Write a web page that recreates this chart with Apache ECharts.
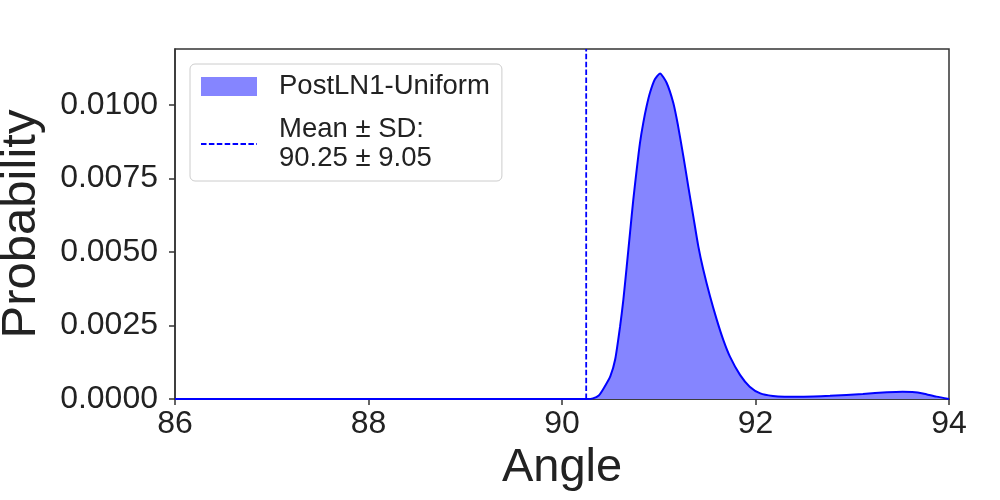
<!DOCTYPE html>
<html lang="en">
<head>
    <meta charset="UTF-8">
    <title>Angle distribution</title>
    <script src="https://cdn.jsdelivr.net/npm/echarts@6/dist/echarts.min.js"></script>
    <style>
        body { margin: 0; background: #ffffff; }
        #chart { width: 1000px; height: 500px; }
    </style>
</head>
<body>
    <div id="chart"></div>
    <script>
        // density curve
        var angles = [86, 90.26, 90.32, 90.38, 90.43, 90.5, 90.55, 90.6, 90.634, 90.669, 90.703, 90.737,
            90.772, 90.806, 90.84, 90.875, 90.91, 90.96, 91.013, 91.08, 91.15, 91.2, 91.254, 91.305,
            91.357, 91.409, 91.46, 91.53, 91.6, 91.667, 91.736, 91.84, 91.94, 92.05, 92.18, 92.3,
            92.5, 92.77, 93.11, 93.36, 93.52, 93.62, 93.73, 93.87, 94];
        var probs = [0, 0, 0.00002, 0.00012, 0.00036, 0.00078, 0.00135, 0.00246, 0.00337, 0.00451, 0.00565, 0.00678,
            0.0078, 0.00871, 0.00939, 0.00996, 0.01042, 0.01087, 0.01107, 0.01076, 0.01007, 0.00928, 0.00826, 0.00723,
            0.00621, 0.00519, 0.0044, 0.00349, 0.00269, 0.00201, 0.00144, 0.00082, 0.00042, 0.00019, 0.0001, 0.00008,
            0.00008, 0.00011, 0.00017, 0.00023, 0.00025, 0.00024, 0.00019, 0.00008, 0];
        var meanAngle = 90.25;
        var xTicks = [86, 88, 90, 92, 94];
        var seriesName = 'PostLN1-Uniform';
        var meanName = 'Mean \u00b1 SD:\n90.25 \u00b1 9.05';

        var yMax = 0.0119;
        var font = 'Liberation Sans';
        var curve = angles.map(function (a, i) { return [a, probs[i]]; });

        var chart = echarts.init(document.getElementById('chart'));
        chart.setOption({
            animation: false,
            textStyle: { fontFamily: font },
            grid: {
                left: 175, right: 51, top: 49, bottom: 101,
                outerBoundsMode: 'none', containLabel: false,
                show: true, borderColor: '#333', borderWidth: 1.5
            },
            legend: {
                orient: 'vertical', left: 190, top: 64,
                padding: [8, 12, 8, 10],
                borderColor: '#cccccc', borderWidth: 1, borderRadius: 5,
                backgroundColor: '#ffffff',
                itemWidth: 56, itemHeight: 19, itemGap: 14,
                textStyle: { fontSize: 27.5, color: '#222', fontFamily: font, padding: [0, 0, 0, 17], lineHeight: 29 },
                data: [
                    { name: seriesName, icon: 'rect' },
                    { name: meanName, itemStyle: { opacity: 0 } }
                ]
            },
            xAxis: {
                type: 'value', min: xTicks[0], max: xTicks[xTicks.length - 1], interval: 2,
                name: 'Angle', nameLocation: 'middle', nameGap: 40,
                nameTextStyle: { fontSize: 47, color: '#222', fontFamily: font },
                axisLine: { show: true, lineStyle: { color: '#333', width: 1.5 } },
                axisTick: { show: true, length: 6, lineStyle: { color: '#333', width: 1.5 } },
                axisLabel: { fontSize: 32, color: '#222', margin: 9 },
                splitLine: { show: false }
            },
            yAxis: {
                type: 'value', min: 0, max: yMax, interval: 0.0025,
                name: 'Probability', nameLocation: 'middle', nameGap: 129, nameRotate: 90,
                nameTextStyle: { fontSize: 49, color: '#222', fontFamily: font },
                axisLine: { show: true, lineStyle: { color: '#333', width: 1.5 } },
                axisTick: { show: true, length: 6, lineStyle: { color: '#333', width: 1.5 } },
                axisLabel: {
                    fontSize: 32, color: '#222', margin: 17, showMaxLabel: false,
                    formatter: function (v) { return v.toFixed(4); }
                },
                splitLine: { show: false }
            },
            series: [
                {
                    name: seriesName, type: 'line', data: curve, symbol: 'none',
                    smooth: 0.2,
                    itemStyle: { color: '#8585ff' },
                    lineStyle: { width: 0 },
                    areaStyle: { color: '#8585ff', opacity: 1 },
                    z: 2
                },
                {
                    name: 'kde', type: 'line', data: curve, symbol: 'none',
                    smooth: 0.2,
                    lineStyle: { color: '#0000ff', width: 2 },
                    z: 3
                },
                {
                    name: meanName, type: 'line', symbol: 'none',
                    data: [[meanAngle, 0], [meanAngle, yMax]],
                    itemStyle: { color: '#0000ff' },
                    lineStyle: { color: '#0000ff', width: 1.8, type: [5.5, 2.4] },
                    z: 4
                }
            ]
        });
    </script>
</body>
</html>
